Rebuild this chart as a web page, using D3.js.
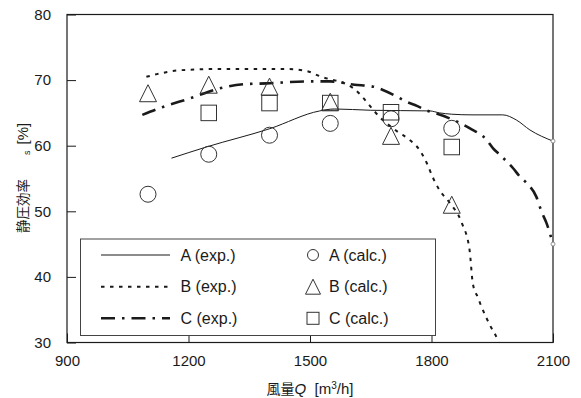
<!DOCTYPE html>
<html><head><meta charset="utf-8">
<script src="https://cdn.jsdelivr.net/npm/d3@7/dist/d3.min.js"></script>
<style>
html,body{margin:0;padding:0;background:#fff;}
text{font-family:"Liberation Sans",Arial,sans-serif;fill:#1a1a1a;}
</style></head>
<body>
<svg id="c" width="581" height="398"></svg>
<script>
// ---- data ----
const xTicks = [900, 1200, 1500, 1800, 2100];
const yTicks = [30, 40, 50, 60, 70, 80];

const aExpQ = [1158, 1244, 1401, 1524, 1560, 1650, 1796, 1820, 1850, 1900, 1976, 2010, 2043, 2100];
const aExpV = [58.1, 59.8, 62.6, 65.3, 65.6, 65.4, 65.3, 65.0, 64.8, 64.7, 64.7, 63.9, 62.4, 60.7];

const bExpQ = [1096, 1129, 1178, 1277, 1442, 1491, 1524, 1606, 1680, 1717, 1746, 1771, 1788, 1803, 1820, 1845, 1875, 1894, 1902, 1915, 1923, 1936, 1948, 1961, 1965];
const bExpV = [70.5, 71.0, 71.5, 71.7, 71.7, 71.4, 70.6, 68.8, 63.9, 62.1, 60.9, 59.3, 57.4, 55.2, 53.2, 51.3, 48.2, 44.1, 39.0, 36.8, 35.5, 33.7, 32.2, 30.7, 30.0];

const cExpQ = [1086, 1137, 1203, 1277, 1343, 1393, 1491, 1549, 1610, 1656, 1680, 1714, 1738, 1759, 1796, 1812, 1862, 1895, 1936, 1952, 1969, 2001, 2018, 2035, 2059, 2072, 2084, 2100];
const cExpV = [64.7, 65.9, 67.2, 68.75, 69.4, 69.5, 69.8, 69.8, 69.3, 69.0, 68.5, 67.5, 66.7, 66.2, 65.2, 64.9, 63.7, 62.65, 60.9, 59.6, 58.6, 56.6, 55.3, 54.3, 52.2, 49.9, 48.2, 45.0];

const aCalcQ = [1100, 1250, 1400, 1550, 1700, 1850];
const aCalcV = [52.6, 58.7, 61.6, 63.4, 64.1, 62.65];
const bCalcQ = [1100, 1250, 1400, 1550, 1700, 1850];
const bCalcV = [68.0, 69.3, 69.0, 66.7, 61.5, 51.0];
const cCalcQ = [1250, 1400, 1550, 1700, 1850];
const cCalcV = [65.0, 66.5, 66.5, 65.1, 59.8];

const legendLines = ["A (exp.)", "B (exp.)", "C (exp.)"];
const legendMarks = ["A (calc.)", "B (calc.)", "C (calc.)"];

// ---- chart ----
const svg = d3.select("#c");
const x = d3.scaleLinear().domain([900, 2100]).range([67, 553]);
const y = d3.scaleLinear().domain([30, 80]).range([342.5, 14.5]);
const ink = "#1a1a1a";

const zip = (q, v) => q.map((d, i) => [d, v[i]]);
const line = d3.line().x(d => x(d[0])).y(d => y(d[1])).curve(d3.curveMonotoneX);

// axes with inward ticks
const xAxis = d3.axisBottom(x).tickValues(xTicks).tickFormat(d3.format("d")).tickSize(-9).tickSizeOuter(0).tickPadding(13);
const gx = svg.append("g").attr("transform", `translate(0,${y(30)})`).call(xAxis);
const yAxis = d3.axisLeft(y).tickValues(yTicks).tickFormat(d3.format("d")).tickSize(-9).tickSizeOuter(0).tickPadding(16);
const gy = svg.append("g").attr("transform", `translate(${x(900)},0)`).call(yAxis);
[gx, gy].forEach(g => {
  g.select(".domain").remove();
  g.selectAll("line").attr("stroke", ink);
  g.selectAll("text").attr("font-size", 15).attr("font-family", '"Liberation Sans",Arial,sans-serif').attr("fill", ink);
});

// frame
svg.append("rect").attr("x", x(900)).attr("y", y(80))
  .attr("width", x(2100) - x(900)).attr("height", y(30) - y(80))
  .attr("fill", "none").attr("stroke", ink).attr("stroke-width", 1.2);

// lines
const styles = {
  A: {dash: null, w: 1},
  B: {dash: "3.5,5.5", w: 2},
  C: {dash: "14,7,2.5,7", w: 2.6}
};
const series = [["A", zip(aExpQ, aExpV)], ["B", zip(bExpQ, bExpV)], ["C", zip(cExpQ, cExpV)]];
series.forEach(([k, d]) => {
  svg.append("path").attr("d", line(d)).attr("fill", "none").attr("stroke", ink)
    .attr("stroke-width", styles[k].w).attr("stroke-dasharray", styles[k].dash);
});
// small end marks on right axis
[zip(aExpQ, aExpV), zip(cExpQ, cExpV)].forEach(d => {
  const p = d[d.length - 1];
  svg.append("circle").attr("cx", x(p[0])).attr("cy", y(p[1])).attr("r", 2)
    .attr("fill", "#fff").attr("stroke", "#777").attr("stroke-width", 0.8);
});

// marker shapes
function marker(g, type, cx, cy, s) {
  if (type === "circle") {
    g.append("circle").attr("cx", cx).attr("cy", cy).attr("r", s / 2);
  } else if (type === "tri") {
    const h = s;
    g.append("path").attr("d", `M${cx},${cy - h / 2}L${cx + s / 2},${cy + h / 2}L${cx - s / 2},${cy + h / 2}Z`);
  } else {
    g.append("rect").attr("x", cx - s / 2).attr("y", cy - s / 2).attr("width", s).attr("height", s);
  }
}
const mg = svg.append("g").attr("fill", "none").attr("stroke", "#333").attr("stroke-width", 1);
zip(cCalcQ, cCalcV).forEach(d => marker(mg, "sq", x(d[0]), y(d[1]), 15.5));
zip(bCalcQ, bCalcV).forEach(d => marker(mg, "tri", x(d[0]), y(d[1]), 17));
zip(aCalcQ, aCalcV).forEach(d => marker(mg, "circle", x(d[0]), y(d[1]), 16));

// legend
const L = svg.append("g");
L.append("rect").attr("x", 80.5).attr("y", 239).attr("width", 355).attr("height", 96.5)
  .attr("fill", "#fff").attr("stroke", "#444").attr("stroke-width", 1);
const rowY = [255, 286.7, 318.3];
const keys = ["A", "B", "C"];
const mtypes = ["circle", "tri", "sq"];
const msz = [11, 15, 12];
keys.forEach((k, i) => {
  L.append("line").attr("x1", 101).attr("x2", 170).attr("y1", rowY[i]).attr("y2", rowY[i])
    .attr("stroke", ink).attr("stroke-width", styles[k].w).attr("stroke-dasharray", styles[k].dash);
  L.append("text").attr("x", 180.5).attr("y", rowY[i]).attr("dy", "0.36em").attr("font-size", 16).text(legendLines[i]);
  const g = L.append("g").attr("fill", "none").attr("stroke", "#333").attr("stroke-width", 1);
  marker(g, mtypes[i], 313, rowY[i], msz[i]);
  L.append("text").attr("x", 329).attr("y", rowY[i]).attr("dy", "0.36em").attr("font-size", 16).text(legendMarks[i]);
});

// axis titles
const xt = svg.append("text").attr("x", 310).attr("y", 394).attr("text-anchor", "middle").attr("font-size", 15);
xt.append("tspan").attr("font-family", '"Noto Sans CJK JP",sans-serif').attr("font-size", 14).text("風量");
xt.append("tspan").attr("font-style", "italic").text("Q");
xt.append("tspan").text("\u00a0\u00a0[m");
xt.append("tspan").attr("font-size", 10).attr("dy", -5).text("3");
xt.append("tspan").attr("dy", 5).text("/h]");

const yt = svg.append("text").attr("transform", "translate(28,233) rotate(-90)").attr("text-anchor", "start").attr("font-size", 15);
yt.append("tspan").attr("font-family", '"Noto Sans CJK JP",sans-serif').attr("font-size", 13.5).text("静圧効率");
yt.append("tspan").attr("font-size", 9).attr("dx", 24).attr("dy", 2).text("s");
yt.append("tspan").attr("dy", -2).attr("dx", 6).text("[%]");
</script>
</body></html>
